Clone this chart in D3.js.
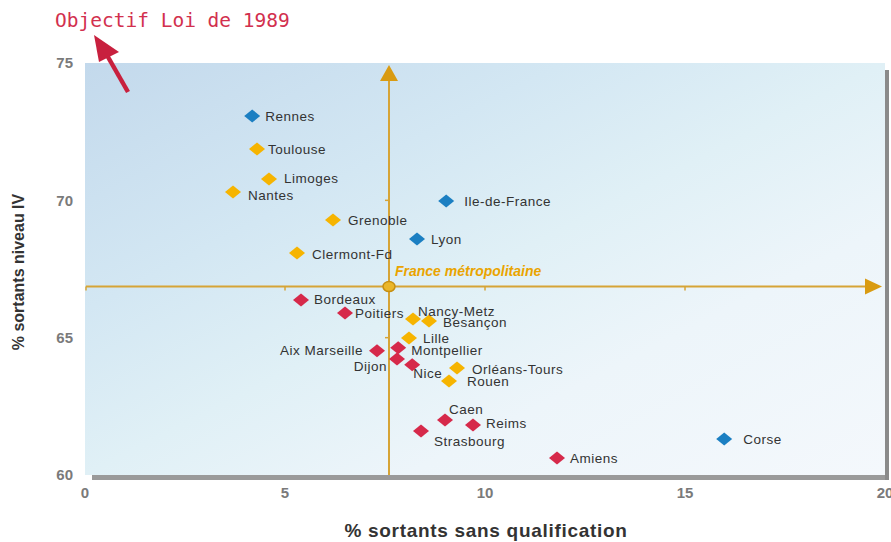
<!DOCTYPE html>
<html><head><meta charset="utf-8">
<script src="https://cdn.jsdelivr.net/npm/d3@7"></script>
<style>body{margin:0;background:#fff}svg{display:block}</style>
</head><body>
<svg id="c" width="891" height="542"></svg>
<script>
// ---- data ----
const cities = ["Rennes","Toulouse","Limoges","Nantes","Ile-de-France","Grenoble","Lyon","Clermont-Fd","Bordeaux","Poitiers","Nancy-Metz","Besançon","Lille","Aix Marseille","Montpellier","Dijon","Nice","Orléans-Tours","Rouen","Caen","Reims","Strasbourg","Amiens","Corse"];
const sansQualif = [4.18,4.30,4.60,3.70,9.03,6.20,8.30,5.30,5.40,6.50,8.20,8.60,8.10,7.30,7.83,7.80,8.18,9.30,9.10,9.00,9.70,8.40,11.80,15.98];
const niveauIV   = [73.07,71.87,70.78,70.30,69.98,69.28,68.59,68.08,66.37,65.90,65.68,65.61,64.99,64.52,64.63,64.22,64.01,63.90,63.42,62.00,61.82,61.60,60.62,61.31];
const groups     = ["b","o","o","o","b","o","b","o","r","r","o","o","o","r","r","r","r","o","o","r","r","r","r","b"];
const france = {name:"France métropolitaine", x:7.6, y:66.86};
const xTicks = [0,5,10,15,20];
const yTicks = [60,65,70,75];
const title = "Objectif Loi de 1989";
const xTitle = "% sortants sans qualification";
const yTitle = "% sortants niveau IV";

// ---- label placement (layout) ----
const labelPos = {
  "Rennes":[13,0],"Toulouse":[11,0],"Limoges":[15,-1],"Nantes":[15,3],"Ile-de-France":[18,0],
  "Grenoble":[15,0],"Lyon":[14,0],"Clermont-Fd":[15,1],"Bordeaux":[13,-1],"Poitiers":[10,0],
  "Nancy-Metz":[5,-8],"Besançon":[14,1],"Lille":[14,0],"Aix Marseille":[-14,-1,"end"],
  "Montpellier":[13,2],"Dijon":[-10,7,"end"],"Nice":[1,8],"Orléans-Tours":[15,1],"Rouen":[18,0],
  "Caen":[4,-11],"Reims":[13,-2],"Strasbourg":[13,10],"Amiens":[13,0],"Corse":[19,0]
};
const colors = {b:"#1b7fc2", o:"#f6b400", r:"#d6294a"};

const svg = d3.select("#c");
const x = d3.scaleLinear().domain([0,20]).range([85,885]);
const y = d3.scaleLinear().domain([60,75]).range([475,63]);

const defs = svg.append("defs");
const g1 = defs.append("linearGradient").attr("id","bg").attr("x1","0").attr("y1","0").attr("x2","1").attr("y2","1");
[[0,"#c3d9ec"],[0.3,"#d3e7f3"],[0.5,"#e0f0f6"],[0.7,"#edf5fa"],[1,"#f4f8fc"]].forEach(([o,c])=>g1.append("stop").attr("offset",o).attr("stop-color",c));

// shadow
svg.append("rect").attr("x",92).attr("y",475).attr("width",797).attr("height",5).attr("fill","#9a9a9a");
svg.append("rect").attr("x",885).attr("y",70).attr("width",4).attr("height",410).attr("fill","#8a8a8a");
// plot background
svg.append("rect").attr("x",x(0)).attr("y",y(75)).attr("width",x(20)-x(0)).attr("height",y(60)-y(75)).attr("fill","url(#bg)");

// ticks labels
svg.append("g").selectAll("text").data(yTicks).join("text")
  .attr("x",73).attr("y",d=>y(d)).attr("dy","0.35em").attr("text-anchor","end")
  .attr("font-family","'Liberation Sans Narrow','Liberation Sans',Arial,sans-serif").attr("font-weight","bold")
  .attr("font-size",15).attr("fill","#7a7a7a").text(d=>d);
svg.append("g").selectAll("text").data(xTicks).join("text")
  .attr("x",d=>x(d)).attr("y",498).attr("text-anchor","middle")
  .attr("font-family","'Liberation Sans Narrow','Liberation Sans',Arial,sans-serif").attr("font-weight","bold")
  .attr("font-size",15).attr("fill","#7a7a7a").text(d=>d);

// axis titles
svg.append("text").attr("x",486).attr("y",537).attr("text-anchor","middle")
  .attr("font-family","'Liberation Sans',Arial,sans-serif").attr("font-weight","bold")
  .attr("font-size",19).attr("letter-spacing",0.7).attr("fill","#333").text(xTitle);
svg.append("text").attr("transform","translate(24,272) rotate(-90)").attr("text-anchor","middle")
  .attr("font-family","'Liberation Sans',Arial,sans-serif").attr("font-weight","bold")
  .attr("font-size",16).attr("fill","#333").text(yTitle);

// crosshair
const gold = "#d6a436";
const fx = x(france.x), fy = y(france.y);
const ch = svg.append("g");
ch.append("line").attr("x1",fx).attr("x2",fx).attr("y1",y(60)).attr("y2",y(75)+14).attr("stroke",gold).attr("stroke-width",2);
ch.append("line").attr("x1",x(0)+1).attr("x2",x(20)-14).attr("y1",fy).attr("y2",fy).attr("stroke",gold).attr("stroke-width",2);
ch.append("line").attr("x1",x(0)+1).attr("x2",x(0)+1).attr("y1",fy).attr("y2",fy+4).attr("stroke",gold).attr("stroke-width",1.5);
ch.append("path").attr("d",`M${fx},${y(75)+2} L${fx+9},${y(75)+18} L${fx-9},${y(75)+18} Z`).attr("fill","#d99b12");
ch.append("path").attr("d",`M${x(20)-3},${fy} L${x(20)-20},${fy-8} L${x(20)-20},${fy+8} Z`).attr("fill","#d99b12");
ch.selectAll(".tx").data([5,10,15]).join("line").attr("x1",d=>x(d)).attr("x2",d=>x(d)).attr("y1",fy).attr("y2",fy+4).attr("stroke",gold).attr("stroke-width",1.5);
ch.selectAll(".ty").data([65,70]).join("line").attr("x1",fx).attr("x2",fx-4).attr("y1",d=>y(d)).attr("y2",d=>y(d)).attr("stroke",gold).attr("stroke-width",1.5);
ch.append("ellipse").attr("cx",fx).attr("cy",fy).attr("rx",6).attr("ry",5).attr("fill","#eab62a").attr("stroke","#c68f12").attr("stroke-width",1.5);
ch.append("text").attr("x",fx+6).attr("y",fy-11)
  .attr("font-family","'Liberation Sans',Arial,sans-serif").attr("font-weight","bold").attr("font-style","italic")
  .attr("font-size",14).attr("fill","#eaa400").text(france.name);

// points
const pts = cities.map((c,i)=>({c, x:sansQualif[i], y:niveauIV[i], g:groups[i]}));
svg.append("g").selectAll("path").data(pts).join("path")
  .attr("d",d=>{const px=x(d.x),py=y(d.y);return `M${px-8},${py} L${px},${py-6.5} L${px+8},${py} L${px},${py+6.5} Z`;})
  .attr("fill",d=>colors[d.g]);
svg.append("g").selectAll("text").data(pts).join("text")
  .attr("x",d=>x(d.x)+labelPos[d.c][0]).attr("y",d=>y(d.y)+labelPos[d.c][1]).attr("dy","0.35em")
  .attr("text-anchor",d=>labelPos[d.c][2]||"start")
  .attr("font-family","'Liberation Sans',Arial,sans-serif").attr("font-size",13.5).attr("letter-spacing",0.5)
  .attr("fill","#333").text(d=>d.c);

// title + arrow
svg.append("text").attr("x",55).attr("y",27)
  .attr("font-family","'DejaVu Sans Mono',monospace").attr("font-size",19.5).attr("fill","#d2304e").text(title);
svg.append("line").attr("x1",128).attr("y1",92).attr("x2",104).attr("y2",50).attr("stroke","#c8203e").attr("stroke-width",4.5);
svg.append("path").attr("d","M94,35 L119,52 L99,62 Z").attr("fill","#c8203e");
</script>
</body></html>
